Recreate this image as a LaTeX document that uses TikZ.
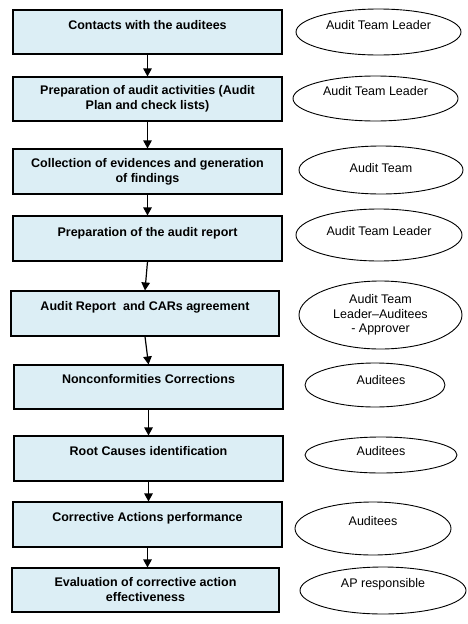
\documentclass[tikz,border=0pt]{standalone}
\usepackage{fontspec}
\setmainfont{Liberation Sans}
\usetikzlibrary{arrows.meta,shapes.geometric}
\definecolor{stepfill}{HTML}{DCEEF5}
\begin{document}
\begin{tikzpicture}[x=1pt,y=-1pt,
  stepbox/.style={draw=black,line width=1.1pt,fill=stepfill,inner sep=0pt},
  stepbox/.default={},
  steptext/.style={anchor=north,inner sep=0pt,align=center,
    font=\fontsize{12.5}{14.5}\selectfont\bfseries},
  roleoval/.style={draw=black,line width=0.9pt,ellipse,inner sep=0pt},
  roletext/.style={anchor=north,inner sep=0pt,align=center,
    font=\fontsize{12.5}{14.5}\selectfont},
  flow/.style={line width=1.2pt,-{Triangle[width=8.5pt,length=8pt]}}]
\useasboundingbox (0,0) rectangle (467,624);

% process steps: \stepat{name}{x1}{y1}{x2}{y2}
\newcommand{\stepat}[5]{%
  \node[stepbox,minimum width={#4-#2},minimum height={#5-#3}]
    (#1) at ({(#2+#4)/2},{(#3+#5)/2}) {};}
\newcommand{\roleat}[5]{%
  \node[roleoval,minimum width={#4-#2},minimum height={#5-#3}]
    (#1) at ({(#2+#4)/2},{(#3+#5)/2}) {};}

\stepat{b1}{13}{10}{282}{54}
\stepat{b2}{13}{77}{282}{121}
\stepat{b3}{13}{149}{282}{194}
\stepat{b4}{13}{216}{282}{261}
\stepat{b5}{11}{291}{279}{336}
\stepat{b6}{14}{365}{283}{409}
\stepat{b7}{14}{436}{283}{481}
\stepat{b8}{13}{502}{282}{547}
\stepat{b9}{12}{568}{279}{612}

\node[steptext] (t1) at (147.5,20.5) {Contacts with the auditees};
\node[steptext] (t2) at (147.5,85.5) {Preparation of audit activities (Audit\\Plan and check lists)};
\node[steptext] (t3) at (147.5,158.5) {Collection of evidences and generation\\of findings};
\node[steptext] (t4) at (147.5,227) {Preparation of the audit report};
\node[steptext] (t5) at (145,301.5) {Audit Report\ \ and CARs agreement};
\node[steptext] (t6) at (148.5,374.5) {Nonconformities Corrections};
\node[steptext] (t7) at (148.5,446.5) {Root Causes identification};
\node[steptext] (t8) at (147.5,512.5) {Corrective Actions performance};
\node[steptext] (t9) at (145.5,577.5) {Evaluation of corrective action\\effectiveness};

% who is responsible for each step
\roleat{e1}{296}{9}{461}{55}
\roleat{e2}{293}{76}{458}{121}
\roleat{e3}{299}{146}{463}{194}
\roleat{e4}{296}{209}{462}{261}
\roleat{e5}{299}{281}{462}{349}
\roleat{e6}{305}{363}{445}{407}
\roleat{e7}{305}{437}{457}{473}
\roleat{e8}{295}{502}{451}{555}
\roleat{e9}{300}{567}{466}{614}

\node[roletext] (r1) at (378.5,20.5) {Audit Team Leader};
\node[roletext] (r2) at (375.5,86.5) {Audit Team Leader};
\node[roletext] (r3) at (381,163.5) {Audit Team};
\node[roletext] (r4) at (379,226.5) {Audit Team Leader};
\node[roletext] (r5) at (380.5,294.5) {Audit Team\\Leader--Auditees\\- Approver};
\node[roletext] (r6) at (381,375.5) {Auditees};
\node[roletext] (r7) at (381,446.5) {Auditees};
\node[roletext] (r8) at (373,516.5) {Auditees};
\node[roletext] (r9) at (383,578.5) {AP responsible};

% flow between the steps
\draw[flow] (b1.south) -- (b2.north);
\draw[flow] (b2.south) -- (b3.north);
\draw[flow] (b3.south) -- (b4.north);
\draw[flow] (b4.south) -- (b5.north);
\draw[flow] (b5.south) -- (b6.north);
\draw[flow] (b6.south) -- (b7.north);
\draw[flow] (b7.south) -- (b7.south |- b8.north);
\draw[flow] (b8.south) -- (b8.south |- b9.north);
\end{tikzpicture}
\end{document}
